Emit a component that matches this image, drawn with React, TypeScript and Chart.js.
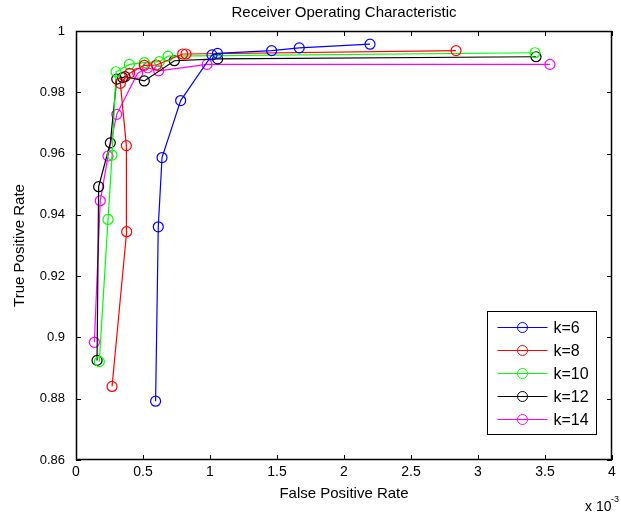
import React, { useEffect, useRef } from "react";
import { Chart, registerables } from "chart.js";

Chart.register(...registerables);

// False positive rate in units of 1e-3, true positive rate
const k6X = [0.594, 0.614, 0.642, 0.781, 1.015, 1.056, 1.46, 1.666, 2.194];
const k6Y = [0.8792, 0.9361, 0.9587, 0.9773, 0.9922, 0.9927, 0.9936, 0.9945, 0.9957];

const k8X = [0.269, 0.378, 0.376, 0.331, 0.4, 0.51, 0.6, 0.796, 0.821, 2.836];
const k8Y = [0.884, 0.9345, 0.9626, 0.9829, 0.9862, 0.9888, 0.9889, 0.9925, 0.9925, 0.9936];

const k10X = [0.174, 0.239, 0.269, 0.299, 0.398, 0.51, 0.622, 0.687, 3.425];
const k10Y = [0.8921, 0.9385, 0.9595, 0.9867, 0.9891, 0.9897, 0.99, 0.9918, 0.9929];

const k12X = [0.157, 0.169, 0.256, 0.304, 0.348, 0.366, 0.51, 0.734, 1.057, 3.433];
const k12Y = [0.8925, 0.9492, 0.9635, 0.9843, 0.9848, 0.9851, 0.9837, 0.9903, 0.9909, 0.9916];

const k14X = [0.137, 0.181, 0.239, 0.304, 0.46, 0.535, 0.617, 0.978, 3.537];
const k14Y = [0.8984, 0.9446, 0.9592, 0.9728, 0.9862, 0.988, 0.987, 0.9891, 0.9891];

const seriesLabels = ["k=6", "k=8", "k=10", "k=12", "k=14"];
const seriesColors = ["#0000ff", "#ff0000", "#00ff00", "#000000", "#ff00ff"];
const seriesX = [k6X, k8X, k10X, k12X, k14X];
const seriesY = [k6Y, k8Y, k10Y, k12Y, k14Y];

const xTicks = [0, 0.5, 1, 1.5, 2, 2.5, 3, 3.5, 4];
const yTicks = [0.86, 0.88, 0.9, 0.92, 0.94, 0.96, 0.98, 1];

const titleText = "Receiver Operating Characteristic";
const xTitle = "False Positive Rate";
const yTitle = "True Positive Rate";

const FONT = '"Liberation Sans", Arial, Helvetica, sans-serif';

const decorPlugin = {
  id: "decor",
  afterDraw(chart: any) {
    const { ctx, chartArea: a, scales } = chart;
    const xs = scales.x;
    const ys = scales.y;
    ctx.save();
    // box
    ctx.strokeStyle = "#000";
    ctx.lineWidth = 1.5;
    ctx.strokeRect(Math.round(a.left) + 0.5, Math.round(a.top) + 0.5, Math.round(a.right - a.left) - 1, Math.round(a.bottom - a.top) - 1);
    // inward ticks
    ctx.lineWidth = 1;
    const tl = 5;
    ctx.beginPath();
    xTicks.forEach((v) => {
      const px = Math.round(xs.getPixelForValue(v)) + 0.5;
      ctx.moveTo(px, a.bottom);
      ctx.lineTo(px, a.bottom - tl);
      ctx.moveTo(px, a.top);
      ctx.lineTo(px, a.top + tl);
    });
    yTicks.forEach((v) => {
      const py = Math.round(ys.getPixelForValue(v)) + 0.5;
      ctx.moveTo(a.left, py);
      ctx.lineTo(a.left + tl, py);
      ctx.moveTo(a.right, py);
      ctx.lineTo(a.right - tl, py);
    });
    ctx.stroke();

    // titles
    ctx.fillStyle = "#000";
    ctx.textAlign = "center";
    ctx.textBaseline = "middle";
    ctx.font = `15px ${FONT}`;
    const cx = (a.left + a.right) / 2;
    ctx.fillText(titleText, cx, a.top - 18);
    ctx.fillText(xTitle, cx, a.bottom + 34);
    ctx.save();
    ctx.translate(20, (a.top + a.bottom) / 2);
    ctx.rotate(-Math.PI / 2);
    ctx.fillText(yTitle, 0, 0);
    ctx.restore();

    // exponent
    ctx.textAlign = "left";
    ctx.textBaseline = "alphabetic";
    ctx.font = `14px ${FONT}`;
    ctx.fillText("x 10", a.right - 27, a.bottom + 51);
    ctx.font = `9px ${FONT}`;
    ctx.fillText("-3", a.right - 1, a.bottom + 42);

    // legend
    const bw = 109;
    const bh = 123;
    const bx = Math.round(a.right - 16 - bw) + 0.5;
    const by = Math.round(a.bottom - 26 - bh) + 0.5;
    ctx.fillStyle = "#fff";
    ctx.fillRect(bx, by, bw, bh);
    ctx.strokeStyle = "#000";
    ctx.lineWidth = 1;
    ctx.strokeRect(bx, by, bw, bh);
    ctx.font = `16px ${FONT}`;
    ctx.textBaseline = "middle";
    seriesLabels.forEach((lab, i) => {
      const y = Math.round(by + 15 + i * 23) + 0.5;
      ctx.strokeStyle = seriesColors[i];
      ctx.beginPath();
      ctx.moveTo(bx + 10, y);
      ctx.lineTo(bx + 60, y);
      ctx.stroke();
      ctx.beginPath();
      ctx.arc(bx + 35, y, 5, 0, Math.PI * 2);
      ctx.stroke();
      ctx.fillStyle = "#000";
      ctx.fillText(lab, bx + 66, y + 1);
    });
    ctx.restore();
  },
};

export default function App() {
  const ref = useRef<HTMLCanvasElement | null>(null);
  useEffect(() => {
    document.body.style.margin = "0";
    if (!ref.current) return;
    const datasets = seriesLabels.map((lab, i) => ({
      label: lab,
      data: seriesX[i].map((x, j) => ({ x, y: seriesY[i][j] })),
      showLine: true,
      borderColor: seriesColors[i],
      backgroundColor: "rgba(0,0,0,0)",
      pointBorderColor: seriesColors[i],
      pointBackgroundColor: "rgba(0,0,0,0)",
      pointRadius: 5,
      pointBorderWidth: 1.2,
      borderWidth: 1.2,
      tension: 0,
    }));
    const chart = new Chart(ref.current, {
      type: "scatter",
      data: { datasets },
      plugins: [decorPlugin],
      options: {
        animation: false,
        responsive: false,
        devicePixelRatio: 1,
        layout: { padding: { top: 31, right: 9, left: 0, bottom: 0 } },
        plugins: {
          legend: { display: false },
          title: { display: false },
          tooltip: { enabled: false },
        },
        scales: {
          x: {
            type: "linear",
            min: 0,
            max: 4,
            afterFit: (s: any) => {
              s.height = 53;
            },
            afterBuildTicks: (s: any) => {
              s.ticks = xTicks.map((v) => ({ value: v }));
            },
            grid: { display: false, drawTicks: false },
            border: { display: false },
            ticks: {
              padding: 4,
              color: "#000",
              font: { family: FONT, size: 14 },
              maxRotation: 0,
              callback: (v: any) => String(Number(Number(v).toFixed(2))),
            },
          },
          y: {
            type: "linear",
            min: 0.86,
            max: 1,
            afterFit: (s: any) => {
              s.width = 76;
            },
            afterBuildTicks: (s: any) => {
              s.ticks = yTicks.map((v) => ({ value: v }));
            },
            grid: { display: false, drawTicks: false },
            border: { display: false },
            ticks: {
              padding: 11,
              color: "#000",
              font: { family: FONT, size: 13 },
              callback: (v: any) => String(Number(Number(v).toFixed(2))),
            },
          },
        },
      },
    });
    return () => chart.destroy();
  }, []);
  return (
    <div style={{ width: 621, height: 513, background: "#fff" }}>
      <canvas ref={ref} width={621} height={513} style={{ display: "block" }} />
    </div>
  );
}
